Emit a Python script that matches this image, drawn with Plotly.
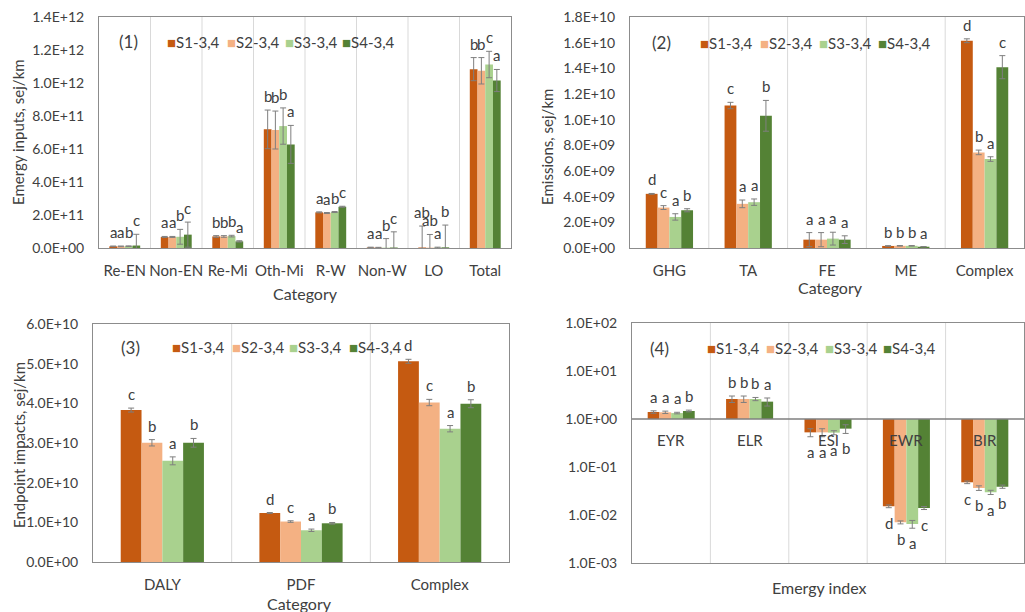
import math
import plotly.graph_objects as go

W, H = 1025, 612
FONT = "Lato"
TXT = "#404040"

series = ["S1-3,4", "S2-3,4", "S3-3,4", "S4-3,4"]
colors = ["#C55A11", "#F4B183", "#A9D18E", "#548235"]

# ---------- Panel 1: Emergy inputs ----------
p1_cats = ["Re-EN", "Non-EN", "Re-Mi", "Oth-Mi", "R-W", "Non-W", "LO", "Total"]
p1_values = [
    [1.0e10, 6.7e10, 7.0e10, 7.19e11, 2.16e11, 3e9, 3e9, 1.084e12],
    [1.0e10, 6.7e10, 7.0e10, 7.15e11, 2.12e11, 2e9, 2e9, 1.074e12],
    [1.1e10, 6.8e10, 7.2e10, 7.39e11, 2.18e11, 2e9, 2e9, 1.112e12],
    [1.5e10, 8.1e10, 4.0e10, 6.28e11, 2.50e11, 3e9, 4e9, 1.015e12],
]
p1_errors = [
    [2e9, 3e9, 5e9, 1.17e11, 3e9, 2e9, 1.3e11, 7.0e10],
    [2e9, 3e9, 5e9, 1.15e11, 3e9, 2e9, 8.0e10, 8.0e10],
    [2e9, 4.5e10, 5e9, 1.10e11, 3e9, 5.5e10, 3e9, 8.0e10],
    [6.8e10, 7.6e10, 4e9, 1.15e11, 3e9, 9.5e10, 1.35e11, 6.7e10],
]
p1_letters = [
    ["a", "a", "b", "b", "a", "a", "ab", "b"],
    ["a", "a", "b", "b", "a", "a", "ab", "b"],
    ["b", "b", "b", "b", "b", "b", "a", "c"],
    ["c", "c", "a", "a", "c", "c", "b", "a"],
]
p1_yticks = [0, 2e11, 4e11, 6e11, 8e11, 1.0e12, 1.2e12, 1.4e12]

# ---------- Panel 2: Emissions ----------
p2_cats = ["GHG", "TA", "FE", "ME", "Complex"]
p2_values = [
    [4.22e9, 11.10e9, 0.65e9, 0.16e9, 16.15e9],
    [3.15e9, 3.44e9, 0.65e9, 0.17e9, 7.45e9],
    [2.42e9, 3.57e9, 0.73e9, 0.17e9, 6.93e9],
    [2.94e9, 10.30e9, 0.65e9, 0.10e9, 14.09e9],
]
p2_errors = [
    [0.03e9, 0.25e9, 0.55e9, 0.02e9, 0.15e9],
    [0.15e9, 0.30e9, 0.55e9, 0.02e9, 0.18e9],
    [0.25e9, 0.25e9, 0.50e9, 0.02e9, 0.18e9],
    [0.12e9, 1.20e9, 0.30e9, 0.01e9, 0.90e9],
]
p2_letters = [
    ["d", "c", "a", "b", "d"],
    ["c", "a", "a", "b", "b"],
    ["a", "a", "a", "b", "a"],
    ["b", "b", "a", "a", "c"],
]
p2_yticks = [0, 2e9, 4e9, 6e9, 8e9, 1.0e10, 1.2e10, 1.4e10, 1.6e10, 1.8e10]

# ---------- Panel 3: Endpoint impacts ----------
p3_cats = ["DALY", "PDF", "Complex"]
p3_values = [
    [3.83e10, 1.237e10, 5.06e10],
    [3.005e10, 1.02e10, 4.02e10],
    [2.55e10, 0.80e10, 3.36e10],
    [3.005e10, 0.976e10, 3.99e10],
]
p3_errors = [
    [0.05e10, 0.01e10, 0.05e10],
    [0.08e10, 0.02e10, 0.08e10],
    [0.10e10, 0.03e10, 0.08e10],
    [0.11e10, 0.02e10, 0.10e10],
]
p3_letters = [
    ["c", "d", "d"],
    ["b", "c", "c"],
    ["a", "a", "a"],
    ["b", "b", "b"],
]
p3_yticks = [0, 1e10, 2e10, 3e10, 4e10, 5e10, 6e10]

# ---------- Panel 4: Emergy indices (log) ----------
p4_cats = ["EYR", "ELR", "ESI", "EWR", "BIR"]
p4_values = [
    [1.40, 2.61, 0.527, 0.0152, 0.048],
    [1.38, 2.61, 0.527, 0.00703, 0.0365],
    [1.33, 2.61, 0.52, 0.0065, 0.0297],
    [1.47, 2.30, 0.63, 0.0140, 0.039],
]
p4_errors = [
    [0.08, 0.40, 0.10, 0.0010, 0.003],
    [0.08, 0.40, 0.10, 0.0005, 0.004],
    [0.05, 0.20, 0.05, 0.0012, 0.003],
    [0.06, 0.44, 0.13, 0.0010, 0.003],
]
p4_letters = [
    ["a", "b", "a", "d", "c"],
    ["a", "b", "a", "b", "b"],
    ["a", "b", "a", "a", "a"],
    ["b", "a", "b", "c", "b"],
]
p4_yticks = [1e-3, 1e-2, 1e-1, 1e0, 1e1, 1e2]

# ---------- layout geometry (pixels) ----------
boxes = {
    1: (99, 511, 17, 248),
    2: (630, 1024, 17, 248),
    3: (93, 509, 324, 562),
    4: (632, 1024, 323, 563),
}
legend_pos = {
    1: (128, 42, [165, 225, 283, 340]),
    2: (661, 43, [698, 758, 817, 876]),
    3: (130, 347, [170, 230, 287, 347]),
    4: (659, 348, [705, 764, 823, 881]),
}
ytitles = {
    1: ("Emergy inputs, sej/km", 18, 132),
    2: ("Emissions, sej/km", 547, 147),
    3: ("Endpoint impacts, sej/km", 19, 445),
}
xtitles = {
    1: ("Category", 305, 293),
    2: ("Category", 830, 287),
    3: ("Category", 299, 603),
    4: ("Emergy index", 819, 587),
}

def px(x):
    return x / W

def py(y):
    return 1 - y / H

BW = 0.15
fig = go.Figure()
annotations = []
shapes = []

panels = {
    1: (p1_cats, p1_values, p1_errors, p1_letters, p1_yticks, [0, 1.4e12], "linear"),
    2: (p2_cats, p2_values, p2_errors, p2_letters, p2_yticks, [0, 1.8e10], "linear"),
    3: (p3_cats, p3_values, p3_errors, p3_letters, p3_yticks, [0, 6e10], "linear"),
    4: (p4_cats, p4_values, p4_errors, p4_letters, p4_yticks, [-3, 2], "log"),
}

for n, (cats, vals, errs, lets, yticks, yrange, ytype) in panels.items():
    sfx = "" if n == 1 else str(n)
    xa, ya = "x" + sfx, "y" + sfx
    ncat = len(cats)
    for k in range(4):
        xs = [i + (k - 1.5) * BW for i in range(ncat)]
        if ytype == "log":
            bar = go.Bar(x=xs, y=[v - 1 for v in vals[k]], base=1)
        else:
            bar = go.Bar(x=xs, y=vals[k])
        bar.update(
            width=BW, marker_color=colors[k], marker_line_width=0,
            name=series[k], showlegend=False, xaxis=xa, yaxis=ya,
            error_y=dict(type="data", array=errs[k], color="#7F7F7F",
                         thickness=1, width=3),
        )
        fig.add_trace(bar)
        # significance letters
        for i in range(ncat):
            v, e = vals[k][i], errs[k][i]
            if ytype == "log":
                if v >= 1:
                    yy, anc, sh = math.log10(v + e), "bottom", 3
                else:
                    yy, anc, sh = math.log10(v - e), "top", -4
            else:
                yy, anc, sh = v + e, "bottom", 3
            annotations.append(dict(
                x=xs[i], y=yy, xref=xa, yref=ya, text=lets[k][i],
                showarrow=False, yanchor=anc, yshift=sh,
                font=dict(family=FONT, size=15, color=TXT)))
    # category separators
    for i in range(ncat - 1):
        shapes.append(dict(type="line", xref=xa, yref=ya + " domain",
                           x0=i + 0.5, x1=i + 0.5, y0=0, y1=1,
                           line=dict(color="#D9D9D9", width=1), layer="below"))
    x0, x1, y0, y1 = boxes[n]
    fig.layout["xaxis" + sfx] = dict(
        domain=[px(x0), px(x1)], anchor=ya, range=[-0.5, ncat - 0.5],
        tickvals=list(range(ncat)), ticktext=cats, automargin=False,
        showticklabels=(ytype != "log"), ticks="", ticklabelstandoff=9,
        showgrid=False, zeroline=False, showline=True, mirror=True,
        linecolor="#8C8C8C", linewidth=1,
        tickfont=dict(family=FONT, size=15, color=TXT), fixedrange=True)
    fig.layout["yaxis" + sfx] = dict(
        domain=[py(y1), py(y0)], anchor=xa, type=ytype, range=yrange,
        tickvals=yticks, ticktext=[f"{t:.1E}" for t in yticks], automargin=False,
        ticks="", ticklabelstandoff=11, showgrid=False, zeroline=False,
        showline=True, mirror=True, linecolor="#8C8C8C", linewidth=1,
        tickfont=dict(family=FONT, size=14, color=TXT), fixedrange=True)
    # legend (manual) and panel label
    lx, ly, items = legend_pos[n]
    annotations.append(dict(x=px(lx), y=py(ly), xref="paper", yref="paper",
                            text=f"({n})", showarrow=False, xanchor="center",
                            yanchor="middle",
                            font=dict(family=FONT, size=17, color=TXT)))
    for k in range(4):
        annotations.append(dict(
            x=px(items[k]), y=py(ly), xref="paper", yref="paper",
            text=f"<span style='color:{colors[k]}'>■</span>{series[k]}",
            showarrow=False, xanchor="left", yanchor="middle",
            font=dict(family=FONT, size=15, color=TXT)))

# panel 4: axis line at 1 and category labels there
fig.add_trace(go.Scatter(x=[-0.5, len(p4_cats) - 0.5], y=[1, 1], mode="lines",
                         line=dict(color="#7F7F7F", width=1.3), hoverinfo="skip",
                         showlegend=False, xaxis="x4", yaxis="y4"))
for i, c in enumerate(p4_cats):
    annotations.append(dict(x=i, y=math.log10(1), xref="x4", yref="y4", text=c,
                            showarrow=False, yanchor="top", yshift=-10,
                            font=dict(family=FONT, size=15, color=TXT)))

for n, (t, x, y) in ytitles.items():
    annotations.append(dict(x=px(x), y=py(y), xref="paper", yref="paper", text=t,
                            textangle=-90, showarrow=False, xanchor="center",
                            yanchor="middle",
                            font=dict(family=FONT, size=15, color=TXT)))
for n, (t, x, y) in xtitles.items():
    annotations.append(dict(x=px(x), y=py(y), xref="paper", yref="paper", text=t,
                            showarrow=False, xanchor="center", yanchor="middle",
                            font=dict(family=FONT, size=16, color=TXT)))

fig.update_layout(
    width=W, height=H, margin=dict(l=0, r=0, t=0, b=0, autoexpand=False),
    paper_bgcolor="white", plot_bgcolor="white", barmode="overlay",
    annotations=annotations, shapes=shapes, hovermode=False,
    font=dict(family=FONT, color=TXT),
)
fig.write_html("out.html",
               config={"displayModeBar": False, "staticPlot": True},
               post_script="document.body.style.margin='0';"
                           "document.body.style.overflow='hidden';")
